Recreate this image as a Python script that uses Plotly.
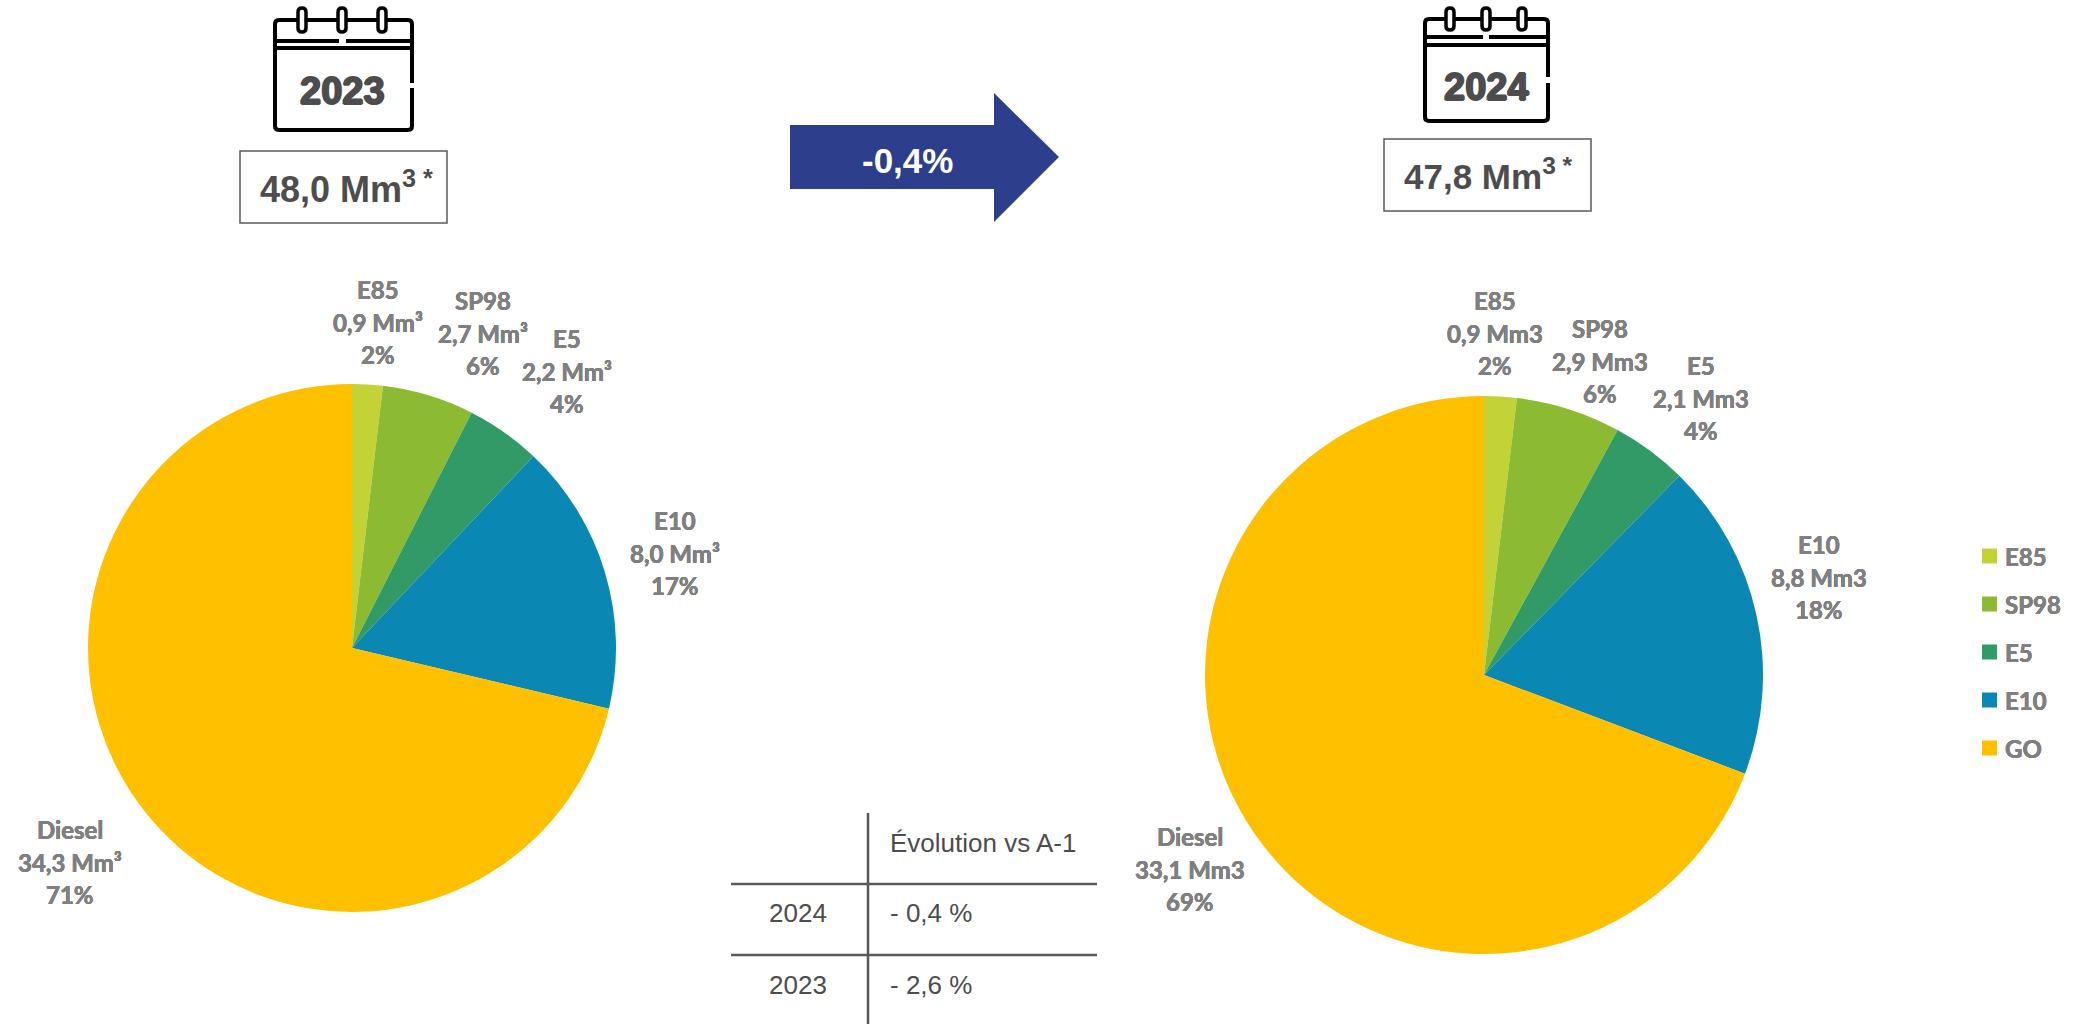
import plotly.graph_objects as go

W, H = 2083, 1024

categories = ["E85", "SP98", "E5", "E10", "GO"]
label_names = ["E85", "SP98", "E5", "E10", "Diesel"]
values_2023 = [0.9, 2.7, 2.2, 8.0, 34.3]
values_2024 = [0.9, 2.9, 2.1, 8.8, 33.1]
shares_2023 = [2, 6, 4, 17, 71]
shares_2024 = [2, 6, 4, 18, 69]
colors = ["#C2D237", "#8CBB33", "#329A66", "#0A87B3", "#FFC000"]

years = ["2023", "2024"]
totals = ["48,0", "47,8"]
change_label = "-0,4%"
table_header = "Évolution vs A-1"
table_years = ["2024", "2023"]
table_changes = ["- 0,4 %", "- 2,6 %"]

GREY = "#808080"
DARK = "#4D4D4D"
LINE = "#595959"
NAVY = "#2C3E8C"
ROUND = "Liberation Sans"
CALIBRI = "Lato"


def X(x):
    return x / W


def Y(y):
    return 1 - y / H


def dom(cx, cy, r):
    return dict(x=[X(cx - r), X(cx + r)], y=[Y(cy + r), Y(cy - r)])


fig = go.Figure()
for vals, d in [(values_2023, dom(352, 648, 264)), (values_2024, dom(1484, 675, 279))]:
    fig.add_trace(go.Pie(
        labels=categories, values=vals, sort=False, direction="clockwise", rotation=0,
        domain=d, textinfo="none", hoverinfo="label+value",
        marker=dict(colors=colors, line=dict(width=0)), showlegend=False,
    ))

shapes, ann = [], []


def text(x, y, s, size, color, family, anchor="center", bold=False, heavy=0):
    t = f"<b>{s}</b>" if bold else s
    font = dict(size=size, color=color, family=family)
    if heavy:
        font["shadow"] = (f"{heavy}px 0 0 {color}, -{heavy}px 0 0 {color}, "
                          f"0 {heavy}px 0 {color}, 0 -{heavy}px 0 {color}")
    ann.append(dict(x=X(x), y=Y(y), xref="paper", yref="paper", text=t, showarrow=False,
                    xanchor=anchor, yanchor="middle", align=anchor, font=font))


def path(d, lw=0, color="black", fill=None):
    s = dict(type="path", xref="paper", yref="paper", path=d, line=dict(width=lw, color=color))
    if fill:
        s["fillcolor"] = fill
    shapes.append(s)


def P(pts, close=False):
    return "M" + " L".join(f"{X(a):.5f},{Y(b):.5f}" for a, b in pts) + (" Z" if close else "")


def ring(cx, y0, y1, hw=4):
    k = hw
    d = (f"M{X(cx-hw):.5f},{Y(y0+k):.5f} Q{X(cx-hw):.5f},{Y(y0):.5f} {X(cx):.5f},{Y(y0):.5f} "
         f"Q{X(cx+hw):.5f},{Y(y0):.5f} {X(cx+hw):.5f},{Y(y0+k):.5f} L{X(cx+hw):.5f},{Y(y1-k):.5f} "
         f"Q{X(cx+hw):.5f},{Y(y1):.5f} {X(cx):.5f},{Y(y1):.5f} "
         f"Q{X(cx-hw):.5f},{Y(y1):.5f} {X(cx-hw):.5f},{Y(y1-k):.5f} Z")
    path(d, 3.5, "black", "white")


def calendar(x0, x1, y0, y1, rings, ry0, ry1, l1, l2, gap, sgap):
    r = 4
    d = (f"M{X(x1):.5f},{Y(sgap[0]):.5f} L{X(x1):.5f},{Y(y0+r):.5f} Q{X(x1):.5f},{Y(y0):.5f} {X(x1-r):.5f},{Y(y0):.5f} "
         f"L{X(x0+r):.5f},{Y(y0):.5f} Q{X(x0):.5f},{Y(y0):.5f} {X(x0):.5f},{Y(y0+r):.5f} "
         f"L{X(x0):.5f},{Y(y1-r):.5f} Q{X(x0):.5f},{Y(y1):.5f} {X(x0+r):.5f},{Y(y1):.5f} "
         f"L{X(x1-r):.5f},{Y(y1):.5f} Q{X(x1):.5f},{Y(y1):.5f} {X(x1):.5f},{Y(y1-r):.5f} L{X(x1):.5f},{Y(sgap[1]):.5f}")
    path(d, 4)
    path(P([(x0, l1), (gap[0], l1)]), 4)
    path(P([(gap[1], l1), (x1, l1)]), 4)
    path(P([(x0, l2), (x1, l2)]), 4)
    for c in rings:
        ring(c, ry0, ry1)


def box(x0, x1, y0, y1):
    shapes.append(dict(type="rect", xref="paper", yref="paper", x0=X(x0), x1=X(x1), y0=Y(y1), y1=Y(y0),
                       line=dict(width=1.5, color=LINE)))


calendar(275, 412, 20, 130, [302, 342, 382], 8, 32, 41, 48, (339, 346), (83, 88))
calendar(1425, 1548, 19, 121, [1450, 1486, 1522], 8, 30, 37, 45, (1483, 1489), (77, 83))
text(342, 91, years[0], 38, DARK, ROUND, bold=True, heavy=1)
text(1486, 87, years[1], 38, DARK, ROUND, bold=True, heavy=1)

box(240, 447, 151, 223)
box(1384, 1591, 139, 211)
text(346, 187, f"{totals[0]} Mm<sup>3 *</sup>", 36, DARK, ROUND, bold=True)
text(1488, 174, f"{totals[1]} Mm<sup>3 *</sup>", 35, DARK, ROUND, bold=True)

path(P([(790, 125), (994, 125), (994, 93), (1059, 157), (994, 222), (994, 189), (790, 189)], True), 0, NAVY, NAVY)
text(907, 160, change_label, 35, "white", ROUND, bold=True)


def fr(v):
    return f"{v:.1f}".replace(".", ",")


pos_2023 = [(378, 322), (483, 333), (567, 371), (675, 553), (70, 862)]
pos_2024 = [(1495, 333), (1600, 361), (1701, 398), (1819, 577), (1190, 869)]
for vals, shares, pos, unit in [(values_2023, shares_2023, pos_2023, "Mm³"),
                                (values_2024, shares_2024, pos_2024, "Mm3")]:
    for name, v, sh, (x, y) in zip(label_names, vals, shares, pos):
        text(x, y - 32.5, name, 24, GREY, CALIBRI, bold=True, heavy=0.15)
        text(x, y, f"{fr(v)} {unit}", 24, GREY, CALIBRI, bold=True, heavy=0.15)
        text(x, y + 32.5, f"{sh}%", 24, GREY, CALIBRI, bold=True, heavy=0.15)

for i, (c, col) in enumerate(zip(categories, colors)):
    yc = 556 + 48 * i
    shapes.append(dict(type="rect", xref="paper", yref="paper", x0=X(1982), x1=X(1997),
                       y0=Y(yc + 7.5), y1=Y(yc - 7.5), fillcolor=col, line=dict(width=0)))
    text(2003, yc, c, 24, GREY, CALIBRI, anchor="left", bold=True, heavy=0.15)

path(P([(868, 813), (868, 1024)]), 2.5, LINE)
path(P([(731, 884), (1097, 884)]), 2.5, LINE)
path(P([(731, 955), (1097, 955)]), 2.5, LINE)
text(888, 843, table_header, 26, DARK, ROUND, anchor="left")
for y, yr, ch in zip([913, 985], table_years, table_changes):
    text(798, y, yr, 26, DARK, ROUND)
    text(888, y, ch, 26, DARK, ROUND, anchor="left")

fig.update_layout(width=W, height=H, margin=dict(l=0, r=0, t=0, b=0), paper_bgcolor="white",
                  plot_bgcolor="white", shapes=shapes, annotations=ann, showlegend=False)
fig.write_html("out.html", config=dict(displayModeBar=False),
               post_script="document.body.style.margin='0';document.body.style.overflow='hidden';")
